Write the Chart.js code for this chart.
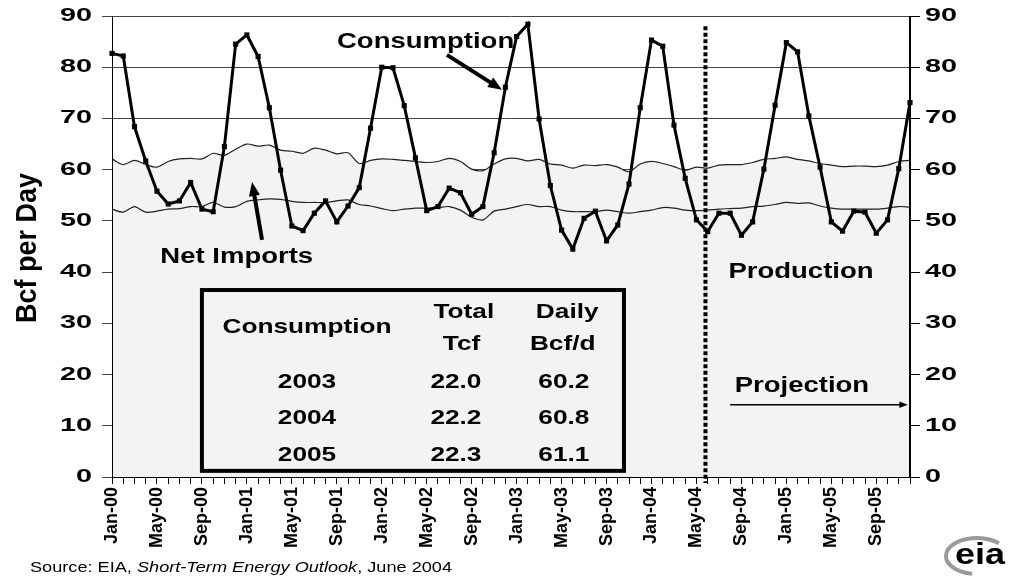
<!DOCTYPE html>
<html>
<head>
<meta charset="utf-8">
<title>Natural Gas Consumption and Supply</title>
<script src="https://cdn.jsdelivr.net/npm/chart.js@4"></script>
<style>
  html, body { margin: 0; padding: 0; background: #fff; }
  #chart { display: block; }
</style>
</head>
<body>
<canvas id="chart" width="1017" height="578"></canvas>
<script>
const monthNames = ["Jan", "Feb", "Mar", "Apr", "May", "Jun", "Jul", "Aug", "Sep", "Oct", "Nov", "Dec"];
const yearSuffixes = ["00", "01", "02", "03", "04", "05"];
const months = [];
yearSuffixes.forEach(yy => monthNames.forEach(m => months.push(m + "-" + yy)));

// Bcf per day, Jan-00 .. Dec-05
const consumption = [
  82.7, 82.2, 68.4, 61.7, 55.8, 53.3, 53.9, 57.5, 52.3, 51.8, 64.5, 84.5,
  86.3, 82.1, 72.1, 59.9, 49.0, 48.1, 51.5, 53.9, 49.8, 52.9, 56.5, 68.1,
  80.0, 79.9, 72.5, 62.3, 52.0, 52.8, 56.4, 55.5, 51.3, 52.8, 63.3, 76.1,
  86.0, 88.4, 69.9, 56.9, 48.2, 44.5, 50.5, 51.9, 46.1, 49.2, 57.2, 72.1,
  85.3, 84.1, 68.7, 58.3, 50.2, 47.9, 51.5, 51.5, 47.2, 49.8, 60.1, 72.6,
  84.8, 83.0, 70.5, 60.5, 49.8, 48.0, 51.9, 51.7, 47.6, 50.2, 60.2, 73.1
];
const production = [
  52.3, 51.7, 52.8, 51.7, 51.9, 52.3, 52.4, 52.8, 52.8, 53.6, 52.7, 52.8,
  53.8, 54.1, 54.3, 54.2, 53.8, 53.6, 53.6, 53.6, 53.9, 54.1, 53.2, 52.9,
  52.4, 52.0, 52.3, 52.5, 52.5, 52.6, 52.8, 52.1, 50.7, 50.2, 51.9, 52.3,
  52.8, 53.2, 52.8, 52.8, 52.1, 51.8, 51.8, 51.8, 52.1, 51.8, 51.5, 51.8,
  52.1, 52.6, 52.5, 52.1, 52.0, 52.1, 52.3, 52.4, 52.5, 52.8, 52.9, 53.2,
  53.6, 53.4, 53.5, 52.9, 52.5, 52.3, 52.3, 52.3, 52.3, 52.5, 52.8, 52.7
];
// production plus net imports
const totalSupply = [
  62.1, 61.0, 61.8, 61.0, 60.5, 61.6, 62.1, 62.2, 62.1, 63.2, 62.8, 64.0,
  65.0, 64.6, 64.8, 63.8, 63.6, 63.2, 64.2, 63.8, 63.1, 63.3, 61.2, 61.8,
  62.1, 62.0, 61.8, 61.6, 61.4, 61.6, 62.2, 61.6, 60.1, 59.8, 61.1, 62.1,
  62.2, 61.7, 62.0, 61.1, 60.9, 60.3, 60.9, 60.8, 61.0, 60.5, 59.6, 61.1,
  61.6, 61.2, 60.6, 59.9, 60.5, 60.3, 60.9, 61.0, 61.0, 61.4, 62.0, 62.2,
  62.5, 62.0, 61.7, 61.2, 60.9, 60.6, 60.7, 60.7, 60.6, 60.9, 61.6, 61.8
];

const tableYears = ["2003", "2004", "2005"];
const tableTotalTcf = ["22.0", "22.2", "22.3"];
const tableDailyBcf = ["60.2", "60.8", "61.1"];

const projectionStart = 52.8; // month index where the forecast begins

const FONT = '"Liberation Sans", Arial, Helvetica, sans-serif';
const STRETCH = 1.25;

function drawText(ctx, text, x, y, font, align = "center", stretch = STRETCH) {
  ctx.save();
  ctx.font = font;
  ctx.fillStyle = "#000";
  ctx.textAlign = align;
  ctx.textBaseline = "middle";
  ctx.translate(x, y);
  ctx.scale(stretch, 1);
  ctx.fillText(text, 0, 0);
  ctx.restore();
}

function drawArrow(ctx, x1, y1, x2, y2, width, head) {
  const ang = Math.atan2(y2 - y1, x2 - x1);
  ctx.save();
  ctx.strokeStyle = "#000";
  ctx.fillStyle = "#000";
  ctx.lineWidth = width;
  ctx.beginPath();
  ctx.moveTo(x1, y1);
  ctx.lineTo(x2 - Math.cos(ang) * head * 0.8, y2 - Math.sin(ang) * head * 0.8);
  ctx.stroke();
  ctx.beginPath();
  ctx.moveTo(x2, y2);
  ctx.lineTo(x2 - head * Math.cos(ang - 0.38), y2 - head * Math.sin(ang - 0.38));
  ctx.lineTo(x2 - head * Math.cos(ang + 0.38), y2 - head * Math.sin(ang + 0.38));
  ctx.closePath();
  ctx.fill();
  ctx.restore();
}

const overlay = {
  id: "overlay",
  afterDraw(chart) {
    const { ctx, chartArea: area, scales } = chart;
    const px = i => scales.x.getPixelForValue(i);
    const py = v => scales.y.getPixelForValue(v);
    const bold = size => "bold " + size + "px " + FONT;

    // axis lines on top of the gray fill
    ctx.save();
    ctx.strokeStyle = "#000";
    ctx.lineWidth = 1;
    ctx.beginPath();
    ctx.moveTo(area.left + 0.5, area.top);
    ctx.lineTo(area.left + 0.5, area.bottom);
    ctx.moveTo(area.right - 0.5, area.top);
    ctx.lineTo(area.right - 0.5, area.bottom);
    ctx.moveTo(area.left, area.bottom + 0.5);
    ctx.lineTo(area.right, area.bottom + 0.5);
    ctx.stroke();

    // projection divider
    ctx.lineWidth = 4;
    ctx.setLineDash([4, 2.5]);
    ctx.beginPath();
    ctx.moveTo(px(projectionStart), py(88));
    ctx.lineTo(px(projectionStart), area.bottom + 6);
    ctx.stroke();
    ctx.restore();

    // y tick labels, both sides
    scales.y.ticks.forEach(t => {
      drawText(ctx, String(t.value), area.left - 20, py(t.value), bold(18), "right", 1.6);
      drawText(ctx, String(t.value), area.right + 15, py(t.value), bold(18), "left", 1.6);
    });

    // y axis title
    ctx.save();
    ctx.translate(28, 248);
    ctx.rotate(-Math.PI / 2);
    ctx.scale(1, 1.1);
    ctx.font = bold(27);
    ctx.fillStyle = "#000";
    ctx.textAlign = "center";
    ctx.textBaseline = "middle";
    ctx.fillText("Bcf per Day", 0, 0);
    ctx.restore();

    // series callouts
    drawText(ctx, "Consumption", px(27.9), py(84.9), bold(22));
    drawArrow(ctx, px(29.8), py(82.4), px(34.7), py(75.6), 4, 15);
    drawText(ctx, "Net Imports", px(11.1), py(43.0), bold(22));
    drawArrow(ctx, px(13.35), py(46.3), px(12.46), py(57.6), 4, 15);
    drawText(ctx, "Production", px(61.3), py(40.0), bold(22));
    drawText(ctx, "Projection", px(55.4), py(17.8), bold(22), "left");
    drawArrow(ctx, px(55.0), py(14.1), px(70.8), py(14.1), 1.5, 9);

    // consumption table
    ctx.save();
    ctx.strokeStyle = "#000";
    ctx.lineWidth = 4;
    ctx.strokeRect(px(8.0), py(36.5), px(45.55) - px(8.0), py(1.2) - py(36.5));
    ctx.restore();
    drawText(ctx, "Consumption", px(17.35), py(29.3), bold(21));
    drawText(ctx, "Total", px(31.3), py(32.1), bold(21));
    drawText(ctx, "Tcf", px(31.1), py(26.0), bold(21));
    drawText(ctx, "Daily", px(40.5), py(32.1), bold(21));
    drawText(ctx, "Bcf/d", px(40.1), py(26.0), bold(21));
    const rowV = [18.6, 11.5, 4.3];
    tableYears.forEach((yr, r) => {
      drawText(ctx, yr, px(17.35), py(rowV[r]), bold(21));
      drawText(ctx, tableTotalTcf[r], px(30.6), py(rowV[r]), bold(21));
      drawText(ctx, tableDailyBcf[r], px(40.2), py(rowV[r]), bold(21));
    });

    // source line
    ctx.save();
    ctx.fillStyle = "#000";
    ctx.textBaseline = "middle";
    ctx.translate(30, 568);
    ctx.scale(1.21, 1);
    let cx = 0;
    [["Source: EIA, ", ""], ["Short-Term Energy Outlook", "italic "], [", June 2004", ""]].forEach(([s, style]) => {
      ctx.font = style + "15px " + FONT;
      ctx.fillText(s, cx, 0);
      cx += ctx.measureText(s).width;
    });
    ctx.restore();

    // eia logo
    ctx.save();
    ctx.strokeStyle = "#9a9a9a";
    ctx.lineWidth = 4;
    ctx.beginPath();
    ctx.ellipse(977, 556, 31, 18, 0, Math.PI * 0.55, Math.PI * 1.75);
    ctx.stroke();
    ctx.restore();
    drawText(ctx, "eia", 980, 556, bold(30), "center", 1.2);
  }
};

const chartCtx = document.getElementById("chart").getContext("2d");

const chart = new Chart(chartCtx, {
  type: "line",
  data: {
    labels: months,
    datasets: [
      {
        label: "Production + Net Imports",
        data: totalSupply,
        borderColor: "#222",
        borderWidth: 1.2,
        backgroundColor: "#f3f3f3",
        fill: "origin",
        pointRadius: 0,
        tension: 0.3,
        order: 3
      },
      {
        label: "Production",
        data: production,
        borderColor: "#222",
        borderWidth: 1.2,
        fill: false,
        pointRadius: 0,
        tension: 0.3,
        order: 2
      },
      {
        label: "Consumption",
        data: consumption,
        borderColor: "#000",
        borderWidth: 3,
        pointStyle: "rect",
        pointRadius: 1.5,
        pointBackgroundColor: "#000",
        pointBorderColor: "#000",
        fill: false,
        tension: 0,
        order: 1
      }
    ]
  },
  options: {
    responsive: false,
    animation: false,
    layout: { padding: { top: 16, left: 0, right: 0, bottom: 0 } },
    plugins: {
      legend: { display: false },
      tooltip: { enabled: false }
    },
    scales: {
      x: {
        grid: { drawOnChartArea: false, drawTicks: true, tickLength: 7, color: "#000" },
        border: { color: "#000" },
        ticks: {
          autoSkip: false,
          minRotation: 90,
          maxRotation: 90,
          padding: 3,
          color: "#000",
          font: { family: FONT, size: 18, weight: "bold" },
          callback: (val, i) => (i % 4 === 0 ? months[i] : "")
        },
        afterFit: s => { s.height = 101; }
      },
      y: {
        min: 0,
        max: 90,
        ticks: { stepSize: 10, display: false },
        grid: { color: "#444", lineWidth: 1, tickLength: 10 },
        border: { color: "#000" },
        afterFit: s => { s.width = 112; }
      },
      y2: {
        position: "right",
        min: 0,
        max: 90,
        ticks: { stepSize: 10, display: false },
        grid: { drawOnChartArea: false, color: "#000", tickLength: 10 },
        border: { color: "#000" },
        afterFit: s => { s.width = 107; }
      }
    }
  },
  plugins: [overlay]
});
</script>
</body>
</html>
